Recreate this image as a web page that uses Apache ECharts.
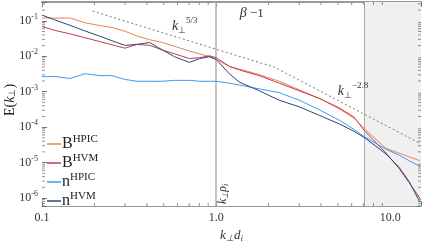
<!DOCTYPE html>
<html><head><meta charset="utf-8">
<script src="https://cdn.jsdelivr.net/npm/echarts@6/dist/echarts.min.js"></script>
<style>html,body{margin:0;padding:0;background:#fff}#c{width:424px;height:248px}</style>
</head><body><div id="c"></div>
<script>
// ---- data ----
const kPerp = [0.100,0.120,0.145,0.176,0.215,0.252,0.299,0.350,0.415,0.493,0.577,0.703,0.802,0.916,1.00,1.19,1.36,1.77,2.30,3.00,3.90,5.08,6.19,7.16,9.45,11.2,12.8,14.8];
const bHPIC = [0.120,0.120,0.120,0.0885,0.0735,0.0651,0.0509,0.0374,0.0293,0.0244,0.0191,0.0140,0.0117,0.0097,0.0081,0.0052,0.00437,0.00302,0.00197,0.00113,6.5e-4,3.31e-4,1.79e-4,8.6e-5,2.5e-5,1.85e-5,1.45e-5,1.13e-5];
const bHVM = [0.0692,0.0529,0.0429,0.0335,0.0259,0.0211,0.0169,0.0216,0.0203,0.0149,0.0117,0.0086,0.0091,0.0103,0.0091,0.0052,0.0041,0.00284,0.00174,0.00106,6.5e-4,3.52e-4,1.91e-4,7.6e-5,1.85e-5,6.9e-6,2.75e-6,9.7e-7];
const nHPIC = [0.00267,0.00267,0.00236,0.00321,0.00284,0.00284,0.00222,0.00197,0.00197,0.00197,0.00209,0.00209,0.00197,0.00197,0.00197,0.00174,0.00154,0.00120,9.4e-4,5.75e-4,3.11e-4,1.58e-4,8.6e-5,5.25e-5,2.36e-5,1.63e-5,1.13e-5,7.8e-6];
const nHVM = [0.145,0.104,0.0745,0.0521,0.0366,0.0275,0.0203,0.0216,0.0244,0.0149,0.0097,0.00671,0.0086,0.0097,0.0081,0.00321,0.00185,0.00106,5.75e-4,3.74e-4,2.16e-4,1.24e-4,7.6e-5,4.93e-5,1.74e-5,7.4e-6,2.93e-6,7.6e-7];
const refK = [0.195, 2.16, 14.9];
const refE = [0.188, 0.00493, 3.41e-5];
const seriesNames = ['B^HPIC','B^HVM','n^HPIC','n^HVM'];
const xTickLabels = {'-1':'0.1','0':'1.0','1':'10.0'};
const xMinor = [0.2,0.3,0.4,0.5,0.6,0.7,0.8,0.9,2,3,4,5,6,7,8,9];
const yMinor = [6e-7,7e-7,8e-7,9e-7,2e-6,3e-6,4e-6,5e-6,6e-6,7e-6,8e-6,9e-6,2e-5,3e-5,4e-5,5e-5,6e-5,7e-5,8e-5,9e-5,2e-4,3e-4,4e-4,5e-4,6e-4,7e-4,8e-4,9e-4,2e-3,3e-3,4e-3,5e-3,6e-3,7e-3,8e-3,9e-3,2e-2,3e-2,4e-2,5e-2,6e-2,7e-2,8e-2,9e-2,2e-1,3e-1];
const kRhoI = 1.0;
const shadeFrom = 7.1;
const xMin = 0.1, xMax = 15, yMin = 5.9e-7, yMax = 0.34;

const SERIF = 'Liberation Serif';
const colors = ['#ef8150','#c23a55','#3d9bf0','#2b4775'];
const zip = (xs, ys) => xs.map((x, i) => [x, ys[i]]);

const chart = echarts.init(document.getElementById('c'));
const isInt = v => { const e = Math.log10(v); return Math.abs(e - Math.round(e)) < 1e-6; };

const axisBase = {
  type: 'log', logBase: 10,
  splitLine: {show: false}, minorTick: {show: false},
};
const tickStyle = {color: '#777', width: 1};

const mkLine = (i, data) => ({
  name: seriesNames[i], type: 'line', data, symbol: 'none', z: 5,
  lineStyle: {color: colors[i], width: 1}, itemStyle: {color: colors[i]}, animation: false
});

const minorDot = (data, size, offset) => ({
  type: 'scatter', data, symbol: 'rect', symbolSize: size, symbolOffset: offset,
  itemStyle: {color: '#777'}, silent: true, clip: false, z: 6, animation: false
});

const option = {
  animation: false,
  grid: {left: 42, right: 2, top: 2, bottom: 30, containLabel: false},
  xAxis: [
    Object.assign({}, axisBase, {min: xMin, max: xMax, position: 'bottom',
      axisLine: {show: true, lineStyle: {color: '#999', width: 1}},
      axisTick: {show: true, inside: true, length: 5, lineStyle: tickStyle},
      axisLabel: {show: true, margin: 6, fontFamily: SERIF, fontSize: 12, color: '#333',
        formatter: v => isInt(v) ? (xTickLabels[String(Math.round(Math.log10(v)))] || '') : ''},
      name: '{k|k}{s|⊥}{k|d}{s|i}', nameLocation: 'middle', nameGap: 10,
      nameTextStyle: {rich: {k: {fontFamily: SERIF, fontStyle: 'italic', fontSize: 13, color: '#333'},
                             s: {fontFamily: SERIF, fontStyle: 'italic', fontSize: 9, color: '#333', padding: [6,0,0,0]}}}
    }),
    Object.assign({}, axisBase, {min: xMin, max: xMax, position: 'top',
      axisLine: {show: true, lineStyle: {color: '#999', width: 2}},
      axisTick: {show: true, inside: true, length: 5, lineStyle: tickStyle},
      axisLabel: {show: false}})
  ],
  yAxis: [
    Object.assign({}, axisBase, {min: yMin, max: yMax, position: 'left',
      axisLine: {show: false},
      axisTick: {show: true, inside: true, length: 5, lineStyle: tickStyle},
      axisLabel: {show: true, margin: 4, color: '#333',
        formatter: v => isInt(v) ? '{b|10}{s|' + Math.round(Math.log10(v)) + '}' : '',
        rich: {b: {fontFamily: SERIF, fontSize: 12, color: '#333'},
               s: {fontFamily: SERIF, fontSize: 8, color: '#333', padding: [0,0,8,0]}}}
    }),
    Object.assign({}, axisBase, {min: yMin, max: yMax, position: 'right',
      axisLine: {show: false},
      axisTick: {show: true, inside: true, length: 5, lineStyle: tickStyle},
      axisLabel: {show: false}})
  ],
  legend: {
    data: seriesNames, orient: 'vertical', left: 47, top: 134, itemGap: 1,
    icon: 'rect', itemWidth: 14, itemHeight: 1.5, padding: 0,
    formatter: n => { const p = n.split('^'); return '{b|' + p[0] + '}{s|' + p[1] + '}'; },
    textStyle: {padding: [0,0,0,-4], rich: {b: {fontFamily: SERIF, fontSize: 16, color: '#222', lineHeight: 18},
                       s: {fontFamily: SERIF, fontSize: 11, color: '#222', padding: [0,0,9,0]}}}
  },
  graphic: [{
    type: 'text', x: 10, y: 100, rotation: Math.PI / 2,
    style: {text: '{a|E(}{k|k}{s|⊥}{a|)}', align: 'center', verticalAlign: 'middle',
      rich: {a: {fontFamily: SERIF, fontSize: 14, fill: '#222'},
             k: {fontFamily: SERIF, fontStyle: 'italic', fontSize: 14, fill: '#222'},
             s: {fontFamily: SERIF, fontSize: 9, fill: '#222', padding: [5,0,0,0]}}}
  }],
  series: [
    {
      type: 'line', data: [], silent: true, z: 1, animation: false,
      markArea: {silent: true, itemStyle: {color: '#f0f0f0'}, data: [[{xAxis: shadeFrom}, {xAxis: xMax}]]},
      markLine: {silent: true, symbol: 'none', label: {show: false},
        data: [
          {xAxis: kRhoI, lineStyle: {color: '#b0b0b0', width: 1.5, type: 'solid'}},
          {xAxis: shadeFrom, lineStyle: {color: '#aaaaaa', width: 1, type: 'solid'}}
        ]}
    },
    {
      type: 'line', data: zip(refK, refE), symbol: 'none', z: 4, silent: true,
      lineStyle: {color: '#555', width: 0.8, type: [2, 2.5]}, animation: false,
      markPoint: {symbol: 'circle', symbolSize: 0, silent: true,
        data: [
          {coord: [1.6, 0.163], label: {show: true, formatter: '{g|β} {a|−1}', rich: {
            g: {fontFamily: SERIF, fontStyle: 'italic', fontSize: 14, color: '#333'},
            a: {fontFamily: SERIF, fontSize: 13, color: '#333'}}}},
          {coord: [0.66, 0.07], label: {show: true, formatter: '{k|k}{s|⊥}{p|5/3}', rich: {
            k: {fontFamily: SERIF, fontStyle: 'italic', fontSize: 14, color: '#333'},
            s: {fontFamily: SERIF, fontSize: 9, color: '#333', padding: [8,0,0,0]},
            p: {fontFamily: SERIF, fontSize: 9, color: '#333', padding: [0,0,12,0]}}}},
          {coord: [6.1, 1.0e-3], label: {show: true, formatter: '{k|k}{s|⊥}{p|−2.8}', rich: {
            k: {fontFamily: SERIF, fontStyle: 'italic', fontSize: 14, color: '#333'},
            s: {fontFamily: SERIF, fontSize: 9, color: '#333', padding: [8,0,0,0]},
            p: {fontFamily: SERIF, fontSize: 9, color: '#333', padding: [0,0,12,0]}}}},
          {coord: [1.09, 1.3e-6], label: {show: true, rotate: 90, formatter: '{k|k}{s|⊥}{k|ρ}{s|i}', rich: {
            k: {fontFamily: SERIF, fontStyle: 'italic', fontSize: 12, color: '#333'},
            s: {fontFamily: SERIF, fontStyle: 'italic', fontSize: 8, color: '#333', padding: [6,0,0,0]}}}}
        ]}
    },
    mkLine(0, zip(kPerp, bHPIC)),
    mkLine(1, zip(kPerp, bHVM)),
    mkLine(2, zip(kPerp, nHPIC)),
    mkLine(3, zip(kPerp, nHVM)),
    minorDot(xMinor.map(x => [x, yMin]), [1, 3], [0, -1.5]),
    minorDot(xMinor.map(x => [x, yMax]), [1, 3], [0, 1.5]),
    minorDot(yMinor.map(y => [xMin, y]), [3, 1], [1.5, 0]),
    minorDot(yMinor.map(y => [xMax, y]), [3, 1], [-1.5, 0])
  ]
};
chart.setOption(option);
</script></body></html>
